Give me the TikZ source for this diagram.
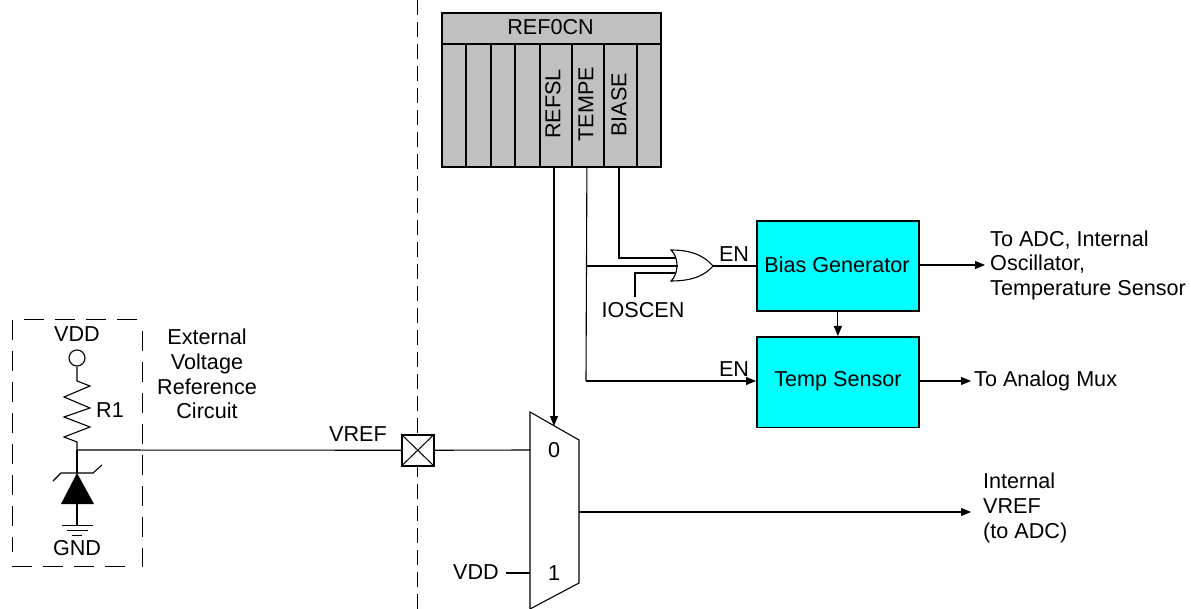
\documentclass[tikz,border=0pt]{standalone}
\usepackage{fontspec}
\setmainfont{Liberation Sans}
\usetikzlibrary{arrows.meta}
\tikzset{
 lbl/.style={inner sep=0pt,font=\fontsize{21.6}{24.5}\selectfont,text=black},
 lblc/.style={lbl,align=center},
 lbll/.style={lbl,align=left,anchor=west},
 reg/.style={draw=black,line width=1.8pt,fill=regfill,inner sep=0pt,anchor=north west},
 blockbox/.style={draw=black,line width=1.8pt,fill=cyan,inner sep=0pt,anchor=north west,minimum width=162pt,minimum height=90.5pt},
 wire/.style={draw=black,line width=1.1pt},
 arr/.style={wire,-{Triangle[length=10pt,width=8pt]}},
 dash1/.style={draw=black,line width=1pt,dash pattern=on 15pt off 7pt},
 dash2/.style={draw=black,line width=1pt,dash pattern=on 20pt off 11pt},
}
\definecolor{regfill}{RGB}{192,192,192}
\definecolor{cyan}{RGB}{0,255,255}
\begin{document}
\begin{tikzpicture}[x=1pt,y=-1pt]
\useasboundingbox (0,0) rectangle (1191,609);
% separator
\coordinate (sepT) at (417,0); \coordinate (sepB) at (417,609);
\draw[dash1] (sepT) -- (sepB);
% register
\node[reg,minimum width=219pt,minimum height=31pt] (hdr) at (441,12) {};
\node[lblc] (hdrt) at (550.5,27.5) {REF0CN};
\node[reg,minimum width=24pt,minimum height=123pt] (c1) at (441,43) {};
\node[reg,minimum width=25pt,minimum height=123pt] (c2) at (465,43) {};
\node[reg,minimum width=24pt,minimum height=123pt] (c3) at (490,43) {};
\node[reg,minimum width=25pt,minimum height=123pt] (c4) at (514,43) {};
\node[reg,minimum width=32pt,minimum height=123pt] (c5) at (539,43) {};
\node[reg,minimum width=32pt,minimum height=123pt] (c6) at (571,43) {};
\node[reg,minimum width=33pt,minimum height=123pt] (c7) at (603,43) {};
\node[reg,minimum width=24pt,minimum height=123pt] (c8) at (636,43) {};
\node[lblc,rotate=90] (t5) at (553,104) {REFSL};
\node[lblc,rotate=90] (t6) at (586,104) {TEMPE};
\node[lblc,rotate=90] (t7) at (619,105) {BIASE};
% blocks
\node[blockbox] (bias) at (756,220) {};
\node[lblc] (biast) at (837,265) {Bias Generator};
\node[blockbox] (temp) at (756,336) {};
\node[lblc] (tempt) at (838,381) {Temp Sensor};
% OR gate
\coordinate (gA) at (671,250); \coordinate (gB) at (671,281); \coordinate (gT) at (713,266);
\draw[wire,fill=white] (gA) .. controls (695,250) and (706,258) .. (gT) .. controls (706,274) and (695,281) .. (gB) .. controls (679,274) and (679,257) .. (gA) -- cycle;
\coordinate (orA) at (676,258); \coordinate (orB) at (677.5,266); \coordinate (orC) at (676,273);
\draw[wire] (c7.south -| 619,0) -- (619,258) -- (orA);
\draw[wire] (c6.south) ++(-1,0) coordinate (tempo) -- (586,381) coordinate (tcorner);
\draw[wire] (586,266) -- (orB);
\draw[arr] (tcorner) -- (temp.west |- tcorner);
\coordinate (ioT) at (635,297);
\draw[wire] (ioT) -- (635,273) -- (orC);
\node[lblc] (iosc) at (643,310) {IOSCEN};
\draw[wire] (gT) -- (bias.west |- gT);
\node[lblc] (en1) at (734,254) {EN};
\node[lblc] (en2) at (734,369) {EN};
% outputs
\coordinate (o1) at (985,265);
\draw[arr] (bias.east |- o1) -- (o1);
\node[lbll] (o1t) at (990,265) {To ADC, Internal\\Oscillator,\\Temperature Sensor};
\coordinate (o2) at (971,381);
\draw[arr] (temp.east |- o2) -- (o2);
\node[lbll] (o2t) at (974,381) {To Analog Mux};
\draw[arr] (bias.south) -- (temp.north);
% mux
\coordinate (mTL) at (530,412); \coordinate (mTR) at (579,440);
\coordinate (mBR) at (579,583); \coordinate (mBL) at (530,609);
\draw[wire,fill=white] (mBL) -- (mTL) -- (mTR) -- (mBR) -- (mBL);
\node[lblc] (m0) at (554,450) {0};
\node[lblc] (m1) at (554,573) {1};
\coordinate (mS) at (554,426);
\draw[arr] (554,166) -- (mS);
\coordinate (m0in) at (530,450); \coordinate (m1in) at (530,573);
\coordinate (mout) at (579,512); \coordinate (vout) at (971,512);
\draw[arr] (mout) -- (vout);
\node[lbll] (vt) at (983,508) {Internal\\[.5pt]VREF\\[.5pt](to ADC)};
\node[lblc] (vdd2) at (476,572) {VDD};
\draw[wire] (506,573) -- (m1in);
% pad
\node[draw=black,line width=1.5pt,fill=white,inner sep=0pt,anchor=north west,minimum width=32pt,minimum height=31pt] (pad) at (401,434) {};
\draw[line width=1pt] (pad.north west) -- (pad.south east) (pad.north east) -- (pad.south west);
\draw[wire] (pad.east) -- (m0in);
\coordinate (jn) at (77,450);
\draw[wire] (jn) -- (pad.west);
\node[lblc] (vr) at (358,434) {VREF};
% external circuit
\coordinate (bTL) at (12,320); \coordinate (bTR) at (142,320);
\coordinate (bBL) at (12,566); \coordinate (bBR) at (142,567);
\draw[dash2] (24,320) -- (bTR);
\draw[dash2] (142,331) -- (bBR);
\draw[dash2] (bBL) -- (130,566);
\draw[dash2] (bTL) -- (12,552);
\node[lblc] (vdd1) at (77,334) {VDD};
\node[circle,draw=black,line width=1.1pt,fill=white,minimum size=16pt,inner sep=0pt] (vc) at (77,358) {};
\draw[wire,line join=miter] (vc.south) -- (77,381) -- (90,386) -- (64,397) -- (90,408) -- (64,417) -- (90,427) -- (64,437) -- (77,442) -- (jn);
\node[lblc] (r1) at (110,410) {R1};
\coordinate (zA) at (77,473);
\draw[wire] (jn) -- (zA);
\draw[wire] (53,481) -- (61,473) -- (93,473) -- (102,465);
\fill[black] (zA) -- (94,504) -- (61,504) -- cycle;
\coordinate (gnd) at (77,525);
\draw[wire] (77,504) -- (gnd);
\draw[line width=1pt] (62,525) -- (93,525) (67,530) -- (88,530) (72,535) -- (82,535);
\node[lblc] (gndt) at (77,548) {GND};
\node[lblc] (ext) at (207,374) {External\\[.3pt]Voltage\\[.3pt]Reference\\[.3pt]Circuit};
\end{tikzpicture}
\end{document}
